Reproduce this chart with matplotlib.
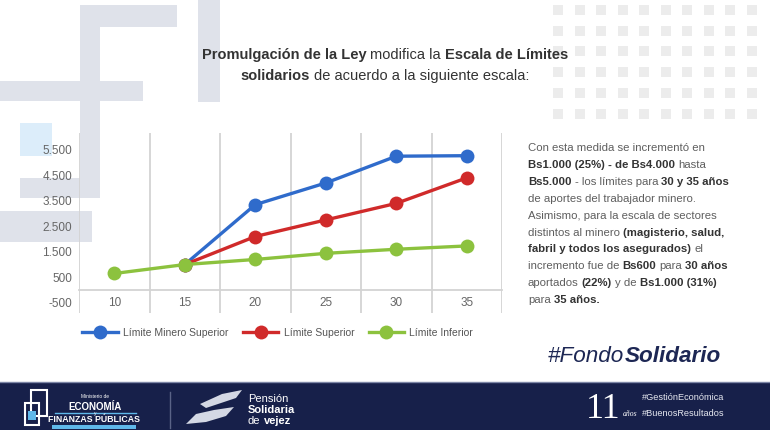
import numpy as np
import matplotlib
matplotlib.use('Agg')
import matplotlib.pyplot as plt
from matplotlib.patches import Rectangle, Polygon

# data
years = ['10', '15', '20', '25', '30', '35']
minero_superior = [np.nan, 1000, 3350, 4200, 5250, 5270]
limite_superior = [np.nan, 1000, 2100, 2750, 3400, 4400]
limite_inferior = [650, 1000, 1200, 1440, 1600, 1730]
series_names = ['Límite Minero Superior', 'Límite Superior', 'Límite Inferior']
series_colors = ['#2f6bcb', '#d02a2a', '#8cc23e']
yticks = [-500, 500, 1500, 2500, 3500, 4500, 5500]

title_lines = [
    [('Promulgación de la Ley', True), (' modifica la ', False), ('Escala de Límites', True)],
    [('solidarios', True), (' de acuerdo a la siguiente escala:', False)],
]
paragraph = [
    [('Con esta medida se incrementó en', False)],
    [('Bs1.000 (25%) - de Bs4.000', True), (' hasta', False)],
    [('Bs5.000', True), (' - los límites para ', False), ('30 y 35 años', True)],
    [('de aportes del trabajador minero.', False)],
    [('Asimismo, para la escala de sectores', False)],
    [('distintos al minero ', False), ('(magisterio, salud,', True)],
    [('fabril y todos los asegurados)', True), (' el', False)],
    [('incremento fue de ', False), ('Bs600', True), (' para ', False), ('30 años', True)],
    [('aportados ', False), ('(22%)', True), (' y de ', False), ('Bs1.000 (31%)', True)],
    [('para ', False), ('35 años.', True)],
]

SANS = ['Liberation Sans', 'DejaVu Sans']
SERIF = ['Liberation Serif', 'DejaVu Serif']

W, H = 770, 430
fig = plt.figure(figsize=(W / 100, H / 100), dpi=100)
fig.patch.set_facecolor('white')
bg = fig.add_axes([0, 0, 1, 1])
bg.set_xlim(0, W)
bg.set_ylim(H, 0)
bg.axis('off')
renderer = fig.canvas.get_renderer()

# background decoration
deco = '#dfe2ea'
for x0, y0, x1, y1 in [(80, 5, 177, 27), (80, 5, 100, 198), (0, 81, 143, 101),
                       (198, 0, 220, 102), (20, 178, 100, 198), (0, 211, 92, 242)]:
    bg.add_patch(Rectangle((x0, y0), x1 - x0, y1 - y0, color=deco, lw=0))
bg.add_patch(Rectangle((20, 123), 32, 33, color='#dcedfa', lw=0))
for i in range(10):
    for j in range(6):
        bg.add_patch(Rectangle((553 + 21.5 * i, 5 + 20.7 * j), 10, 10, color='#ececec', lw=0))


def text_width(s, **kw):
    if not s:
        return 0
    t = bg.text(0, 0, '|' + s + '|', **kw)
    w = t.get_window_extent(renderer).width
    t.remove()
    t = bg.text(0, 0, '||', **kw)
    w -= t.get_window_extent(renderer).width
    t.remove()
    return w


def rich_line(x, y, parts, size, family, color, bold_color=None, ha='left', style='normal'):
    kws = [dict(size=size, family=family, style=style, weight='bold' if b else 'normal') for s, b in parts]
    widths = [text_width(s, **kw) for (s, b), kw in zip(parts, kws)]
    if ha == 'center':
        x -= sum(widths) / 2
    for (s, b), kw, w in zip(parts, kws, widths):
        lead = len(s) - len(s.lstrip(' '))
        dx = text_width(' ' * lead, **kw) if lead else 0
        bg.text(x + dx, y, s.strip(' '), va='center', ha='left',
                color=bold_color if (b and bold_color) else color, **kw)
        x += w


# title
rich_line(385, 55, title_lines[0], 10.5, SANS, '#333333', ha='center')
rich_line(385, 76, title_lines[1], 10.5, SANS, '#333333', ha='center')

# right paragraph
for k, line in enumerate(paragraph):
    rich_line(528, 148 + 16.9 * k, line, 8.2, SANS, '#5e5e5e', bold_color='#333333')

# hashtag
rich_line(548, 357, [('#Fondo', False), ('Solidario', True)], 16.2, SANS, '#1d2754', style='italic')

# bottom banner
navy = '#17204a'
bg.add_patch(Rectangle((0, 382), W, 48, color=navy, lw=0))
bg.plot([0, W], [382, 382], color='#7d86a6', lw=1)
# ministry logo
bg.add_patch(Rectangle((31, 390), 16, 26, fill=False, ec='white', lw=1.5))
bg.add_patch(Rectangle((25, 403), 14, 22, fill=False, ec='white', lw=1.5))
bg.add_patch(Rectangle((28, 411), 8, 9, color='#5fb8ea', lw=0))
bg.text(95, 397, 'Ministerio de', color='white', size=3.5, ha='center', va='center', family=SANS)
bg.text(95, 407, 'ECONOMÍA', color='white', size=7, weight='bold', ha='center', va='center', family=SANS)
bg.text(95, 413, 'y', color='white', size=3.5, ha='center', va='center', family=SANS)
bg.plot([55, 136], [413, 413], color='#5fb8ea', lw=1)
bg.text(94, 419.5, 'FINANZAS PÚBLICAS', color='white', size=6.3, weight='bold', ha='center', va='center', family=SANS)
bg.add_patch(Rectangle((52, 425), 84, 4, color='#5fb8ea', lw=0))
bg.plot([170, 170], [392, 428], color='#5a6387', lw=1)
# hands
bg.add_patch(Polygon([[200, 404], [222, 394], [242, 390], [236, 398], [218, 404], [206, 408]],
                     closed=True, color='#d4d8e4', lw=0))
bg.add_patch(Polygon([[186, 424], [196, 414], [214, 410], [234, 407], [226, 416], [206, 422]],
                     closed=True, color='#d4d8e4', lw=0))
bg.text(248, 399, 'Pensión', color='white', size=8, ha='left', va='center', family=SANS)
bg.text(248, 410, 'Solidaria', color='white', size=8, weight='bold', ha='left', va='center', family=SANS)
rich_line(248, 421, [('de ', False), ('vejez', True)], 8, SANS, 'white')
# 11 años
bg.text(603, 409, '11', color='white', size=26, ha='center', va='center', family=SERIF)
bg.text(623, 414, 'años', color='white', size=5.5, style='italic', ha='left', va='center', family=SERIF)
bg.text(642, 398, '#GestiónEconómica', color='#e6e8f0', size=6.6, ha='left', va='center', family=SANS)
bg.text(642, 414, '#BuenosResultados', color='#e6e8f0', size=6.6, ha='left', va='center', family=SANS)

# chart
ax = fig.add_axes([79 / W, 1 - 313 / H, (502 - 79) / W, 180 / H])
ax.set_facecolor('none')
xs = np.arange(len(years))
for name, vals, c in zip(series_names, [minero_superior, limite_superior, limite_inferior], series_colors):
    ax.plot(xs, vals, '-o', color=c, lw=2.4, ms=10, mew=0, label=name, zorder=3)
ax.set_xlim(-0.5, len(years) - 0.5)
ax.set_ylim(-900, 6160)
for b in np.arange(-0.5, len(years)):
    ax.axvline(b, color='#d3d3d3', lw=1.3, zorder=1)
for s in ['top', 'right', 'left']:
    ax.spines[s].set_visible(False)
ax.spines['bottom'].set_position(('data', 0))
ax.spines['bottom'].set_color('#d3d3d3')
ax.spines['bottom'].set_linewidth(1.3)
ax.set_xticks(xs, years)
ax.set_yticks(yticks, [f'{v:,}'.replace(',', '.') for v in yticks])
ax.tick_params(length=0, colors='#666666', labelsize=8.5)
ax.tick_params(axis='x', pad=5)
ax.tick_params(axis='y', pad=5)
for lab in ax.get_xticklabels() + ax.get_yticklabels():
    lab.set_family(SANS)

leg = fig.legend(loc='center left', bbox_to_anchor=(73 / W, 1 - 333 / H), ncol=3, frameon=False,
                 prop={'family': SANS, 'size': 7.5}, handlelength=3.4, handletextpad=0.5,
                 columnspacing=1.4)
for t in leg.get_texts():
    t.set_color('#555555')

fig.savefig('out.png', dpi=100)
